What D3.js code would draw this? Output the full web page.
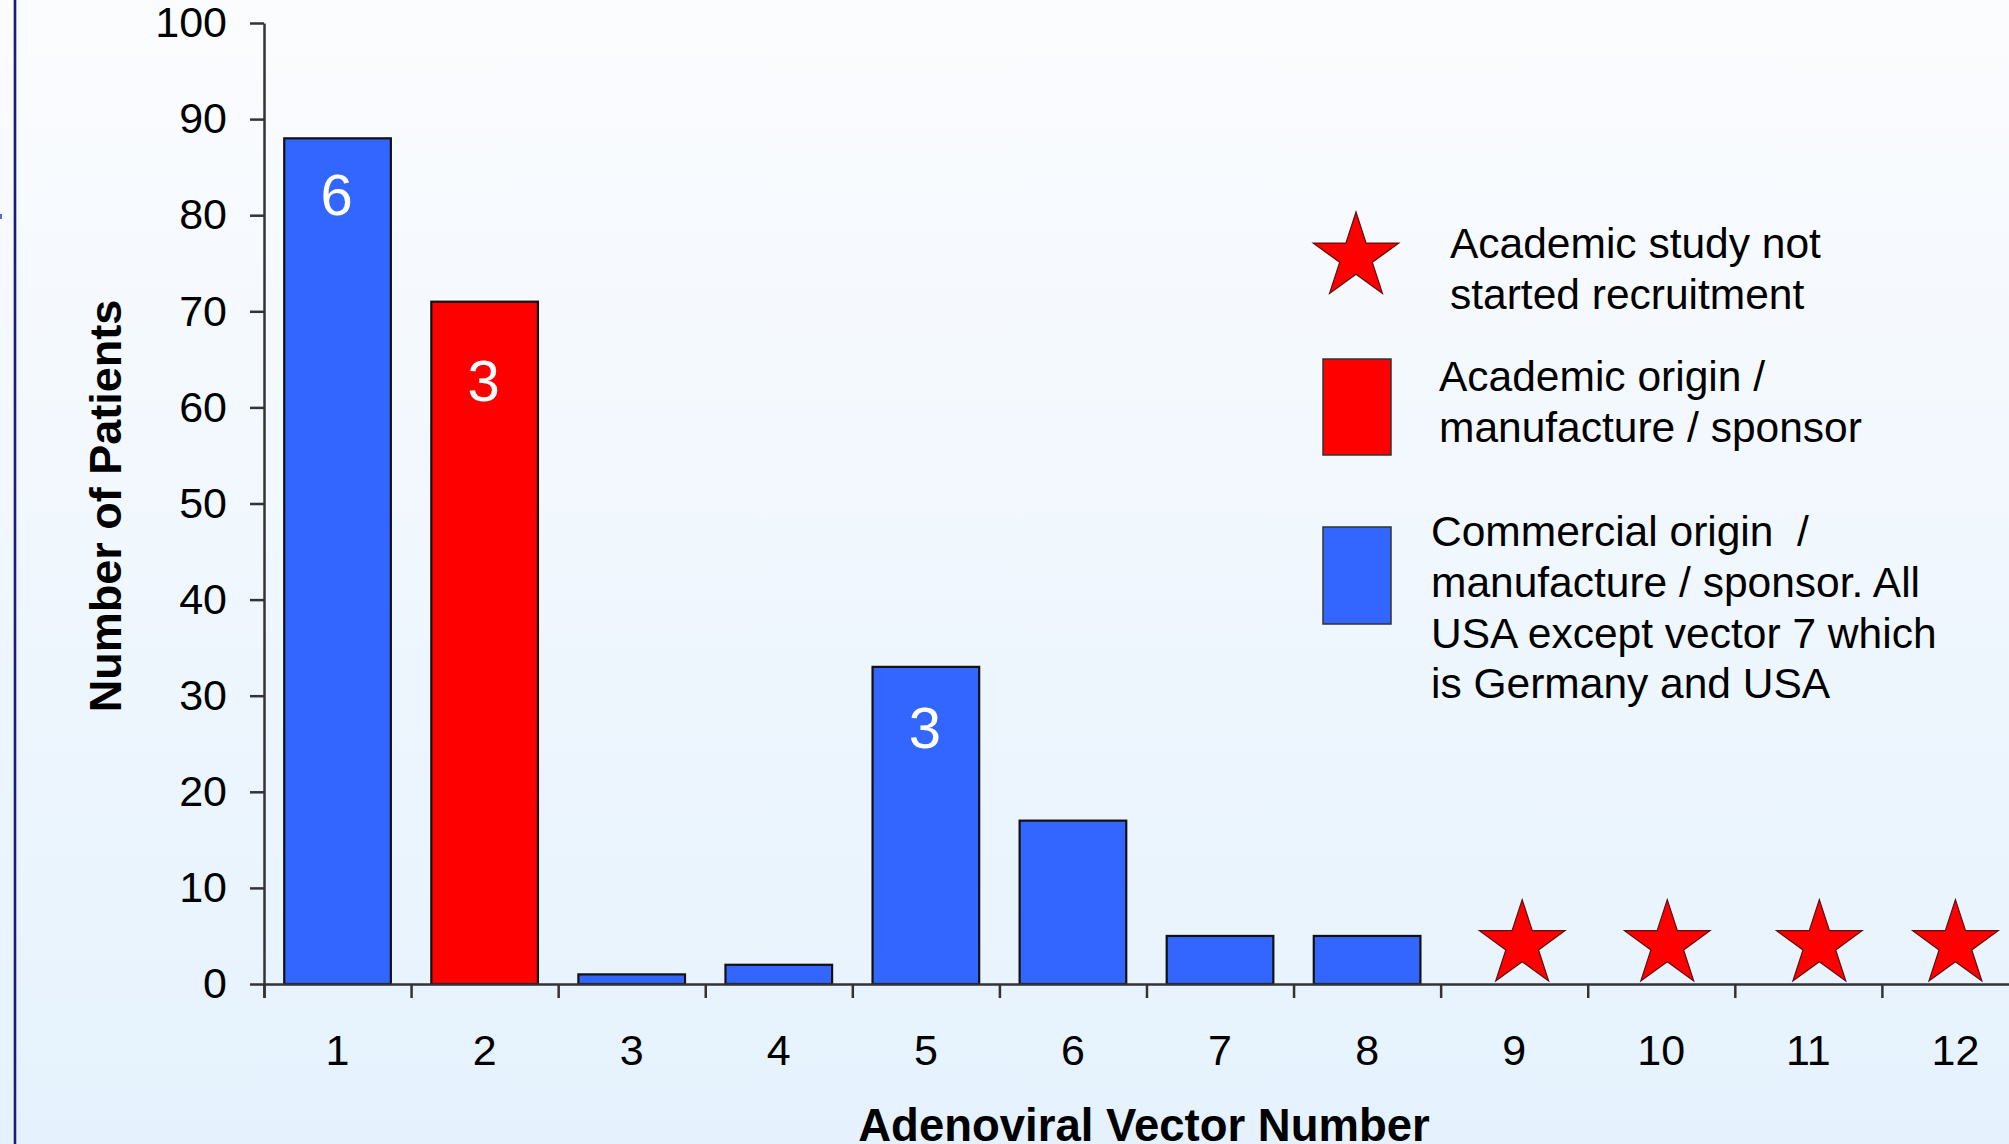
<!DOCTYPE html>
<html>
<head>
<meta charset="utf-8">
<script src="https://cdn.jsdelivr.net/npm/d3@7"></script>
<style>
  html, body { margin: 0; padding: 0; overflow: hidden; }
  svg { display: block; }
  text { font-family: "Liberation Sans", Arial, Helvetica, sans-serif; }
</style>
</head>
<body>
<svg id="chart" width="2009" height="1144"></svg>
<script>
// Adenoviral vectors and the number of patients treated with each
const vectors = [1, 2, 3, 4, 5, 6, 7, 8, 9, 10, 11, 12];
const patients = [88, 71, 1, 2, 33, 17, 5, 5, null, null, null, null];
const origin = ["commercial", "academic", "commercial", "commercial", "commercial",
                "commercial", "commercial", "commercial", "notStarted", "notStarted",
                "notStarted", "notStarted"];
// number of studies printed inside some of the bars
const studies = [6, 3, null, null, 3, null, null, null, null, null, null, null];
const yTicks = [0, 10, 20, 30, 40, 50, 60, 70, 80, 90, 100];

const legendItems = [
  { key: "notStarted", lines: ["Academic study not", "started recruitment"] },
  { key: "academic", lines: ["Academic origin /", "manufacture / sponsor"] },
  { key: "commercial", lines: ["Commercial origin  /", "manufacture / sponsor. All",
                              "USA except vector 7 which", "is Germany and USA"] }
];

const colors = { commercial: "#3366ff", academic: "#ff0000", notStarted: "#ff0000" };

const W = 2009, H = 1144;
const x0 = 264, bandW = 147.08;
const svg = d3.select("#chart");

// background
const defs = svg.append("defs");
const grad = defs.append("linearGradient").attr("id", "bg")
  .attr("x1", 0).attr("y1", 0).attr("x2", 0).attr("y2", 1);
grad.append("stop").attr("offset", "0%").attr("stop-color", "#fbfcfe");
grad.append("stop").attr("offset", "100%").attr("stop-color", "#e5f2fd");
svg.append("rect").attr("width", W).attr("height", H).attr("fill", "url(#bg)");

// slide frame line on the left
svg.append("rect").attr("x", 13).attr("y", 0).attr("width", 4).attr("height", H).attr("fill", "#aab4e6");
svg.append("rect").attr("x", 14).attr("y", 0).attr("width", 2).attr("height", H).attr("fill", "#1c1c78");
svg.append("rect").attr("x", 0).attr("y", 214).attr("width", 2).attr("height", 5).attr("fill", "#5a6ad0");

const x = d3.scaleBand().domain(vectors).range([x0, x0 + bandW * vectors.length])
  .paddingInner(0.275).paddingOuter(0.1375);
const xEdges = d3.scaleLinear().domain([0, vectors.length]).range([x0, x0 + bandW * vectors.length]);
const y = d3.scaleLinear().domain([0, 100]).range([984, 23]);

const axisColor = "#333333";
const font = "'Liberation Sans', Arial, sans-serif";

// y axis
const yAxis = svg.append("g").attr("transform", `translate(${x0},0)`)
  .call(d3.axisLeft(y).tickValues(yTicks).tickSize(14).tickSizeOuter(0).tickPadding(23));
yAxis.select(".domain").attr("stroke", axisColor).attr("stroke-width", 2.5);
yAxis.selectAll(".tick line").attr("stroke", axisColor).attr("stroke-width", 2.5);
yAxis.selectAll(".tick text").attr("font-size", 43).attr("fill", "#000").attr("font-family", font);

// bars
const data = vectors.map((v, i) => ({ v, n: patients[i], kind: origin[i], s: studies[i] }));
svg.append("g").selectAll("rect")
  .data(data.filter(d => d.n != null))
  .join("rect")
  .attr("x", d => x(d.v))
  .attr("y", d => y(d.n))
  .attr("width", x.bandwidth())
  .attr("height", d => y(0) - y(d.n))
  .attr("fill", d => colors[d.kind])
  .attr("stroke", "#111")
  .attr("stroke-width", 2.2);

// study counts inside bars
const labelDrop = { 1: 77, 2: 99, 5: 81 };
svg.append("g").selectAll("text")
  .data(data.filter(d => d.s != null))
  .join("text")
  .attr("x", d => x(d.v) + x.bandwidth() / 2 - 1)
  .attr("y", d => y(d.n) + (labelDrop[d.v] || 80))
  .attr("text-anchor", "middle")
  .attr("font-size", 58)
  .attr("fill", "#fff")
  .text(d => d.s);

// stars for studies that have not started recruitment
const starR = 45;
const starSize = starR * starR / 0.8908130915292852;
const star = d3.symbol().type(d3.symbolStar).size(starSize);
const starShift = { 9: 8, 10: 6, 11: 11, 12: 0 };
svg.append("g").selectAll("path")
  .data(data.filter(d => d.kind === "notStarted"))
  .join("path")
  .attr("d", star)
  .attr("transform", d => `translate(${x(d.v) + x.bandwidth() / 2 + (starShift[d.v] || 0)},${y(0) - 3 - starR * Math.cos(Math.PI / 5)})`)
  .attr("fill", colors.notStarted)
  .attr("stroke", "#5a1010")
  .attr("stroke-width", 1.2);

// x axis: tick marks between vectors, labels centred under each
const xTicks = svg.append("g").attr("transform", `translate(0,${y(0)})`)
  .call(d3.axisBottom(xEdges).tickValues(d3.range(0, vectors.length + 1)).tickSize(14).tickFormat(""));
xTicks.select(".domain").attr("stroke", axisColor).attr("stroke-width", 2.5);
xTicks.selectAll(".tick line").attr("stroke", axisColor).attr("stroke-width", 2.5);

const xLabels = svg.append("g").attr("transform", `translate(0,${y(0)})`)
  .call(d3.axisBottom(x).tickSize(0).tickPadding(50));
xLabels.select(".domain").remove();
xLabels.selectAll(".tick text").attr("font-size", 43).attr("fill", "#000").attr("font-family", font);

// axis titles
svg.append("text")
  .attr("x", 1144).attr("y", 1141)
  .attr("text-anchor", "middle")
  .attr("font-size", 45.5).attr("font-weight", "bold")
  .text("Adenoviral Vector Number");

svg.append("text")
  .attr("transform", "translate(121,506) rotate(-90)")
  .attr("text-anchor", "middle")
  .attr("font-size", 45).attr("font-weight", "bold")
  .text("Number of Patients");

// legend
const legend = svg.append("g");
// star entry
legend.append("path").attr("d", star)
  .attr("transform", `translate(1356,${257})`)
  .attr("fill", colors.notStarted).attr("stroke", "#5a1010").attr("stroke-width", 1.2);
// swatches
legend.append("rect").attr("x", 1323).attr("y", 359).attr("width", 68).attr("height", 96)
  .attr("fill", colors.academic).attr("stroke", "#333").attr("stroke-width", 1.5);
legend.append("rect").attr("x", 1323).attr("y", 527).attr("width", 68).attr("height", 97)
  .attr("fill", colors.commercial).attr("stroke", "#333").attr("stroke-width", 1.5);

const legendText = [
  { x: 1450, y: 258 },
  { x: 1439, y: 391 },
  { x: 1431, y: 546 }
];
legendItems.forEach((item, i) => {
  const t = legend.append("text")
    .attr("x", legendText[i].x).attr("y", legendText[i].y)
    .attr("font-size", 42.5).attr("fill", "#000");
  item.lines.forEach((line, j) => {
    t.append("tspan").attr("x", legendText[i].x).attr("dy", j === 0 ? 0 : 50.8)
      .style("white-space", "pre").text(line);
  });
});
</script>
</body>
</html>
